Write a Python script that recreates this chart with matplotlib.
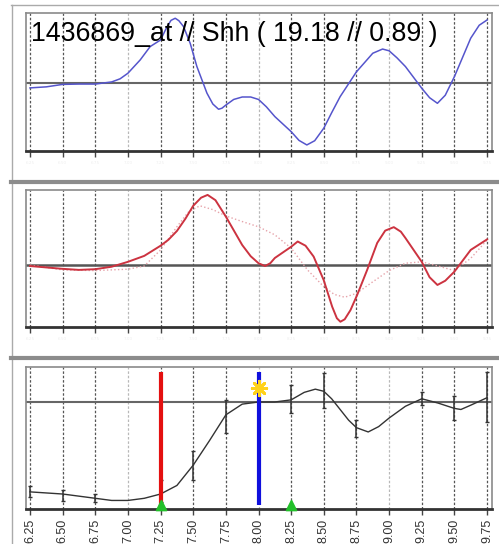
import matplotlib
matplotlib.use("Agg")
import matplotlib.pyplot as plt
from matplotlib.lines import Line2D

# time axis (hours / stage)
ticks = [6.25, 6.50, 6.75, 7.00, 7.25, 7.50, 7.75, 8.00, 8.25, 8.50, 8.75, 9.00, 9.25, 9.50, 9.75]
tick_labels = ["6.25", "6.50", "6.75", "7.00", "7.25", "7.50", "7.75", "8.00",
               "8.25", "8.50", "8.75", "9.00", "9.25", "9.50", "9.75"]

title = "1436869_at // Shh ( 19.18 // 0.89 )"

# top panel - blue profile
blue_x = [6.25, 6.375, 6.50, 6.625, 6.75, 6.875, 6.94, 7.00, 7.094, 7.17, 7.25, 7.298,
          7.33, 7.362, 7.39, 7.426, 7.477, 7.528, 7.605, 7.65, 7.694, 7.72, 7.75, 7.81,
          7.875, 7.94, 8.00, 8.06, 8.125, 8.25, 8.31, 8.37, 8.43, 8.50, 8.56, 8.625,
          8.75, 8.875, 8.95, 9.00, 9.06, 9.125, 9.25, 9.31, 9.37, 9.43, 9.50, 9.625,
          9.69, 9.75]
blue_y = [-0.14, -0.11, -0.04, -0.03, -0.03, 0.03, 0.12, 0.28, 0.66, 1.04, 1.23, 1.60,
          1.79, 1.85, 1.78, 1.61, 1.13, 0.47, -0.29, -0.60, -0.75, -0.72, -0.63, -0.47,
          -0.40, -0.40, -0.47, -0.68, -0.96, -1.39, -1.64, -1.77, -1.65, -1.29, -0.85, -0.39,
          0.32, 0.85, 0.97, 0.92, 0.72, 0.47, -0.15, -0.42, -0.58, -0.35, 0.18, 1.28,
          1.65, 1.80]

# middle panel - red solid and pink dotted
red_x = [6.25, 6.50, 6.625, 6.75, 6.875, 7.00, 7.125, 7.25, 7.31, 7.375, 7.44, 7.50,
         7.56, 7.61, 7.67, 7.75, 7.875, 7.94, 8.00, 8.05, 8.09, 8.125, 8.25, 8.30, 8.36,
         8.422, 8.499, 8.564, 8.60, 8.627, 8.66, 8.704, 8.755, 8.832, 8.909, 8.97,
         9.036, 9.09, 9.125, 9.25, 9.31, 9.37, 9.43, 9.50, 9.625, 9.75]
red_y = [-0.03, -0.11, -0.14, -0.12, -0.05, 0.09, 0.26, 0.55, 0.72, 0.97, 1.32, 1.69,
         1.92, 2.00, 1.85, 1.38, 0.57, 0.25, 0.05, -0.03, 0.05, 0.20, 0.52, 0.67, 0.55,
         0.24, -0.43, -1.19, -1.52, -1.62, -1.55, -1.29, -0.86, -0.14, 0.63, 0.98,
         1.08, 0.95, 0.77, 0.09, -0.35, -0.57, -0.45, -0.19, 0.43, 0.73]

pink_x = [6.25, 6.50, 6.75, 7.00, 7.125, 7.25, 7.375, 7.46, 7.55, 7.65, 7.75, 7.875,
          8.00, 8.125, 8.25, 8.375, 8.50, 8.58, 8.66, 8.75, 8.875, 9.00, 9.125, 9.25,
          9.375, 9.50, 9.625, 9.75]
pink_y = [0.00, -0.14, -0.16, -0.12, -0.03, 0.43, 1.09, 1.50, 1.69, 1.58, 1.40, 1.24,
          1.09, 0.86, 0.48, -0.14, -0.62, -0.84, -0.92, -0.81, -0.48, -0.16, 0.05, 0.09,
          -0.03, -0.16, 0.19, 0.71]

# bottom panel - fitted curve and replicate ranges
fit_x = [6.25, 6.50, 6.75, 6.875, 7.00, 7.125, 7.25, 7.375, 7.50, 7.625, 7.75, 7.875,
         8.00, 8.125, 8.25, 8.35, 8.435, 8.50, 8.56, 8.625, 8.69, 8.75, 8.84, 8.92,
         9.00, 9.125, 9.25, 9.375, 9.50, 9.55, 9.625, 9.75]
fit_y = [0.16, 0.14, 0.10, 0.08, 0.08, 0.10, 0.14, 0.22, 0.41, 0.64, 0.88, 0.98,
         1.00, 1.00, 1.02, 1.09, 1.12, 1.10, 1.03, 0.93, 0.83, 0.76, 0.72, 0.77,
         0.85, 0.96, 1.03, 0.99, 0.94, 0.93, 0.97, 1.04]

err_x = [6.25, 6.50, 6.75, 7.25, 7.50, 7.75, 8.25, 8.50, 8.75, 9.25, 9.50, 9.75]
err_lo = [0.115, 0.078, 0.065, 0.068, 0.27, 0.71, 0.90, 0.94, 0.67, 0.97, 0.83, 0.81]
err_hi = [0.215, 0.178, 0.14, 0.27, 0.54, 1.02, 1.16, 1.27, 0.83, 1.09, 1.06, 1.28]

red_mark = 7.25
blue_mark = 8.00
star_y = 1.13
green_marks = [7.25, 8.25]

W, H = 499, 544
fig = plt.figure(figsize=(W / 100, H / 100), dpi=100)
fig.patch.set_facecolor("white")


def box(top, bottom):
    return [26 / W, 1 - bottom / H, (492 - 26) / W, (bottom - top) / H]


def setup(ax, ylim, show_labels):
    ax.set_xlim(6.2193, 9.788)
    ax.set_ylim(*ylim)
    for t in ticks:
        c = "#b8b8b8" if float(t).is_integer() else "#555555"
        ax.axvline(t, color=c, lw=0.9, ls=(0, (2, 1.5)), zorder=1)
    ax.set_xticks(ticks)
    ax.set_yticks([])
    for s in ["top", "left", "right"]:
        ax.spines[s].set_color("#8a8a8a")
        ax.spines[s].set_linewidth(1.2)
    ax.spines["bottom"].set_color("#333333")
    ax.spines["bottom"].set_linewidth(2)
    ax.tick_params(axis="x", length=4, width=1, color="#444444", pad=3)
    if show_labels:
        ax.set_xticklabels(tick_labels, rotation=90, fontsize=9, color="#333333",
                           family="Liberation Sans")
    else:
        ax.set_xticklabels(tick_labels, fontsize=3, color="#eeeeee")


# panel 1
ax1 = fig.add_axes(box(13, 151))
setup(ax1, (-1.943, 2.0), False)
ax1.axhline(0, color="#666666", lw=1.5, zorder=2)
ax1.plot(blue_x, blue_y, color="#5555cc", lw=1.1, zorder=3)

# panel 2
ax2 = fig.add_axes(box(190, 327))
setup(ax2, (-1.77, 2.14), False)
ax2.axhline(0, color="#555555", lw=1.8, zorder=2)
ax2.plot(pink_x, pink_y, color="#e6a3aa", lw=1.0, ls=":", zorder=3)
ax2.plot(red_x, red_y, color="#cc3340", lw=1.4, zorder=4)

# panel 3
ax3 = fig.add_axes(box(367, 509))
setup(ax3, (0, 1.327), True)
ax3.axhline(1.0, color="#666666", lw=1.5, zorder=2)
ax3.vlines(err_x, err_lo, err_hi, color="#333333", lw=1.1, zorder=3)
ax3.scatter(err_x, err_lo, marker="_", s=12, color="#333333", lw=1, zorder=3)
ax3.scatter(err_x, err_hi, marker="_", s=12, color="#333333", lw=1, zorder=3)
ax3.plot(fit_x, fit_y, color="#333333", lw=1.0, zorder=4)
ax3.vlines(red_mark, 0, 1.28, color="#e41010", lw=3, zorder=5)
ax3.vlines(blue_mark, 0.04, 1.28, color="#1010dd", lw=3, zorder=5)
ax3.scatter([blue_mark], [star_y], marker=(8, 2, 0), s=110, color="#ffd21a", lw=2, zorder=6)
ax3.scatter(green_marks, [0.035] * len(green_marks), marker="^", s=55,
            color="#22c02a", zorder=7, clip_on=False)

# title text
fig.text(31 / W, 1 - 41 / H, title, fontsize=19.3, family="Liberation Sans",
         color="black", va="baseline", ha="left")

# outer panel frames
def hline(y, x0, x1, color, lw):
    fig.add_artist(Line2D([x0 / W, x1 / W], [1 - y / H, 1 - y / H], color=color, lw=lw))


def vline(x, y0, y1, color, lw):
    fig.add_artist(Line2D([x / W, x / W], [1 - y0 / H, 1 - y1 / H], color=color, lw=lw))


hline(5, 11, 499, "#aaaaaa", 1)
vline(11.5, 5, 544, "#aaaaaa", 1)
hline(181.5, 11, 499, "#8c8c8c", 3)
hline(357.5, 11, 499, "#8c8c8c", 3)

fig.savefig("out.png", dpi=100, facecolor="white")
